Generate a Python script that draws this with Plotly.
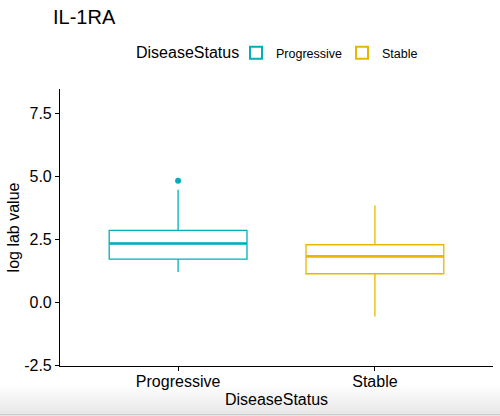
import plotly.graph_objects as go

# ---- data ----
categories = ["Progressive", "Stable"]
colors = ["#00AFBB", "#E7B800"]
q1 = [1.72, 1.14]
median = [2.34, 1.83]
q3 = [2.86, 2.29]
lower_whisker = [1.21, -0.56]
upper_whisker = [4.47, 3.85]
outlier_group = ["Progressive"]
outlier_value = [4.83]
y_tick_vals = [-2.5, 0.0, 2.5, 5.0, 7.5]
y_tick_text = ["-2.5", "0.0", "2.5", "5.0", "7.5"]

FONT = "Liberation Sans, Arial, Helvetica, sans-serif"
BOX_W = 0.7
positions = [i + 1 for i in range(len(categories))]

fig = go.Figure()
for i, cat in enumerate(categories):
    fig.add_trace(go.Box(
        x=[positions[i]],
        q1=[q1[i]], median=[median[i]], q3=[q3[i]],
        lowerfence=[lower_whisker[i]], upperfence=[upper_whisker[i]],
        name=cat, legendgroup=cat,
        width=BOX_W, whiskerwidth=0,
        fillcolor="white",
        line=dict(color=colors[i], width=1.3),
        boxpoints=False,
        hoverinfo="skip",
    ))
    # thicker median line like ggplot
    fig.add_trace(go.Scatter(
        x=[positions[i] - BOX_W / 2, positions[i] + BOX_W / 2],
        y=[median[i], median[i]],
        mode="lines", line=dict(color=colors[i], width=2.6),
        showlegend=False, legendgroup=cat, hoverinfo="skip",
    ))

# outliers
for cat, val in zip(outlier_group, outlier_value):
    i = categories.index(cat)
    fig.add_trace(go.Scatter(
        x=[positions[i]], y=[val], mode="markers",
        marker=dict(color=colors[i], size=6),
        showlegend=False, hoverinfo="skip",
    ))

# bottom screenshot gradient band (decoration)
plot_top, plot_bot = 89.0, 366.0
def py(px):
    return (plot_bot - px) / (plot_bot - plot_top)

band_start, band_end = 386, 414
n = 14
for k in range(n):
    y0 = band_start + (band_end - band_start) * k / n
    y1 = band_start + (band_end - band_start) * (k + 1) / n
    g = int(255 - (255 - 232) * (k + 1) / n)
    fig.add_shape(type="rect", xref="paper", yref="paper",
                  x0=-1, x1=2, y0=py(y1), y1=py(y0),
                  fillcolor=f"rgb({g},{g},{g})", line=dict(width=0), layer="below")
fig.add_shape(type="rect", xref="paper", yref="paper",
              x0=-1, x1=2, y0=py(415.5), y1=py(414),
              fillcolor="rgb(205,205,205)", line=dict(width=0), layer="below")

# legend title as annotation (to control spacing like ggplot)
fig.add_annotation(text="DiseaseStatus", xref="paper", yref="paper",
                   x=(134 - 60) / (492.7 - 60), xanchor="left",
                   y=py(53), yanchor="middle", showarrow=False,
                   font=dict(size=16, color="black"))

fig.update_layout(
    width=500, height=416,
    margin=dict(l=60, r=7, t=89, b=50, autoexpand=False),
    paper_bgcolor="white", plot_bgcolor="white",
    font=dict(family=FONT, color="black", size=16),
    boxmode="overlay",
    title=dict(text="IL-1RA", x=53 / 500, xanchor="left", xref="container",
               y=1 - 10 / 416, yanchor="top", yref="container",
               font=dict(size=20, color="black")),
    showlegend=True,
    legend=dict(
        orientation="h", x=236 / 500, xanchor="left", xref="container",
        y=1 - 53 / 416, yanchor="middle", yref="container",
        font=dict(size=12.5), bgcolor="rgba(0,0,0,0)",
        entrywidth=61, entrywidthmode="pixels",
        itemsizing="constant",
    ),
    xaxis=dict(
        range=[0.4, 2.6], tickvals=positions, ticktext=categories,
        showline=True, linecolor="black", linewidth=1.1,
        ticks="outside", ticklen=4, tickcolor="black", tickwidth=1.1,
        showgrid=False, zeroline=False, automargin=False,
        tickfont=dict(size=16), ticklabelstandoff=-3,
        title=dict(text="DiseaseStatus", font=dict(size=16), standoff=4),
    ),
    yaxis=dict(
        range=[-2.52, 8.47], tickvals=y_tick_vals, ticktext=y_tick_text,
        showline=True, linecolor="black", linewidth=1.1,
        ticks="outside", ticklen=4, tickcolor="black", tickwidth=1.1,
        showgrid=False, zeroline=False, automargin=False,
        tickfont=dict(size=16),
        title=dict(text="log lab value", font=dict(size=16), standoff=0),
    ),
)

fig.write_html("out.html", config={"displayModeBar": False},
               post_script="document.body.style.margin='0';document.body.style.overflow='hidden';")
